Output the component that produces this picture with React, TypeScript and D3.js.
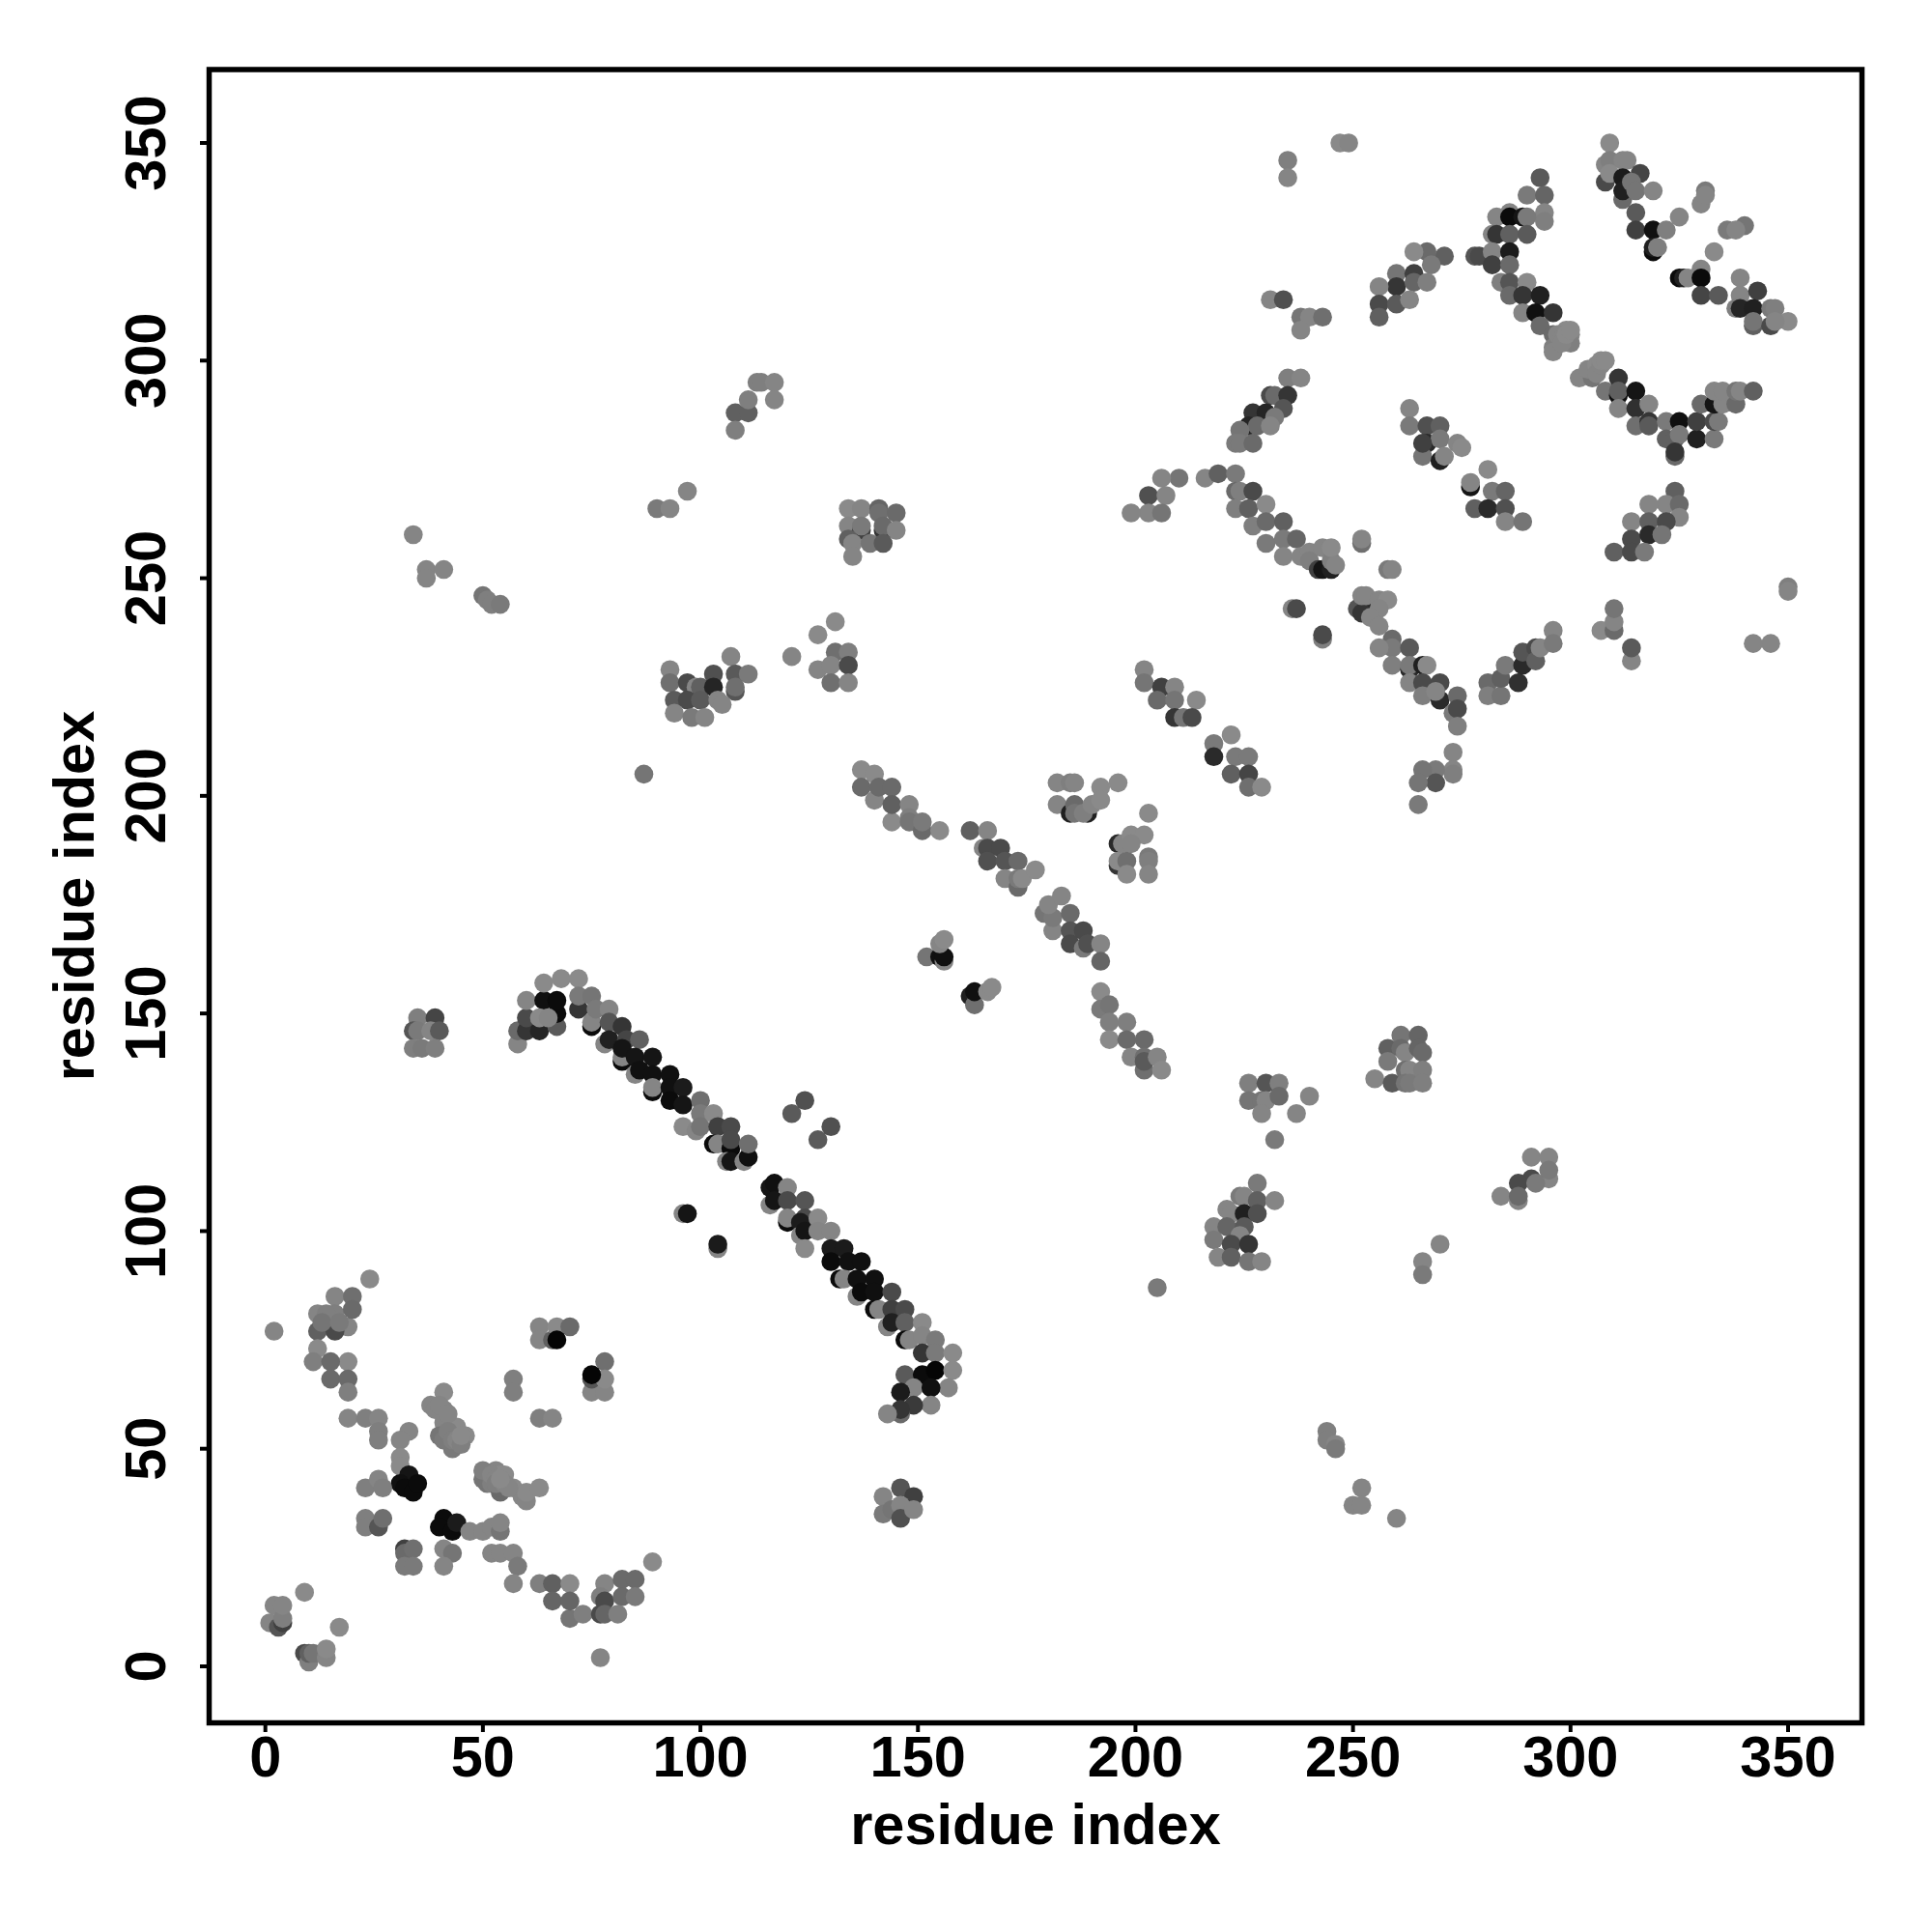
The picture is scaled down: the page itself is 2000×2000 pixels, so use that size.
import React from "react";
import * as d3 from "d3";

type P = [number, number, number]; // residue x, residue y, grey level

const lowerLeft: P[] = [
[24,89,130],[2,77,125],[16,85,125],[20,85,105],[19,78,125],[12,81,125],[16,81,120],[20,82,100],[12,77,90],[16,77,70],
[14,81,120],[13,79,110],[17,79,115],
[12,73,130],[11,70,120],[19,70,130],[15,70,100],[15,66,100],[19,66,100],[19,63,120],
[57,66,120],[57,63,120],[63,78,125],[63,75,125],[66,75,90],[67,78,130],[70,78,100],[67,75,5],
[78,70,105],[75,63,125],[78,63,125],[75,66,80],[78,66,130],[75,67,5],
[63,57,120],[66,57,125],[19,57,125],[23,57,120],[26,57,125],[26,54,120],[26,52,120],
[33,54,125],[31,52,125],[31,48,130],[31,46,130],
[41,63,130],[38,60,125],[41,59,125],[41,56,125],[40,53,110],[43,50,115],[41,52,115],[44,55,130],[46,53,130],
[39,59,125],[40,60,125],[42,58,125],[42,54,120],[43,52,120],[44,52,125],[45,51,120],[45,53,130],
[33,44,20],[31,42,15],[32,41,10],[34,40,10],[35,42,10],
[23,41,120],[26,43,125],[27,41,120],[23,34,120],[23,32,120],[26,32,80],[27,34,105],
[41,34,10],[40,32,10],[43,31,10],[44,33,25],[47,31,125],[50,31,125],[52,32,125],[54,31,110],[54,33,125],
[52,26,125],[54,26,125],[57,26,125],[58,23,115],[57,19,125],[32,27,60],[32,26,100],[34,27,105],[32,23,115],[34,23,115],
[41,27,125],[43,26,110],[41,23,125],
[51,42,110],[50,43,110],[52,42,120],[54,40,100],[54,41,100],[53,45,125],[54,44,130],[57,41,130],[59,39,125],[60,38,125],[60,40,130],[63,41,130],
[50,45,120],[52,44,125],[53,43,125],[53,42,120],[55,44,130],[55,42,125],[56,41,125],[54,43,130],
[63,19,120],[66,19,90],[70,19,130],[66,15,95],[70,11,110],[70,15,95],[73,12,120],
[78,19,125],[82,20,100],[85,20,100],[89,24,130],[77,16,120],[78,15,70],[82,16,100],[85,16,115],
[77,12,70],[78,12,95],[81,12,120],[77,2,125],
[1,10,125],[3,9,80],[4,10,60],[2,14,125],[4,11,120],[4,14,125],
[9,17,130],[17,9,130],[9,3,70],[10,1,120],[10,3,90],[11,3,110],[14,2,125],[14,4,130],
];

const longStrand: P[] = [
[58,143,125],[58,146,100],[60,146,50],[60,149,70],[60,153,125],[63,146,35],[67,147,85],[64,153,15],[64,157,130],[68,158,130],[72,158,130],
[67,150,10],[67,153,10],[63,149,130],[65,149,125],
[72,151,50],[72,154,115],[75,154,110],[75,147,10],[75,148,125],[76,151,115],[79,151,125],
[79,148,80],[82,147,50],[78,143,125],[79,144,30],[83,144,65],[86,144,90],
[82,139,10],[82,140,125],[82,142,20],[85,140,20],[89,140,20],
[85,136,125],[86,137,15],[89,136,15],[93,136,15],
[89,132,10],[89,133,125],[93,133,15],[96,133,25],[93,130,10],[96,129,20],[100,130,105],
[96,124,130],[99,123,125],[100,127,115],[100,124,110],[103,127,130],[104,124,60],[107,124,70],
[103,120,10],[104,120,125],[107,119,10],[107,121,70],[106,116,125],[107,116,20],[110,116,125],[111,117,15],[111,120,105],
[121,127,85],[124,130,75],[127,121,85],[130,124,75],
[116,106,125],[116,110,20],[117,111,15],[120,110,125],[117,107,20],[120,107,70],[124,107,80],
[120,102,10],[120,103,125],[124,103,70],[123,102,25],[123,99,125],[124,100,20],[127,103,130],[127,100,125],[130,100,125],[124,96,130],
[130,96,25],[133,96,25],[130,93,10],[134,93,15],[137,93,15],
[132,89,10],[133,89,125],[136,89,15],[140,89,15],
[136,85,125],[137,86,10],[140,86,15],[144,86,70],
[140,82,10],[141,82,125],[144,82,60],[147,82,70],
[143,78,125],[144,79,30],[147,79,90],[151,79,130],
[147,75,10],[148,75,125],[151,76,125],[154,75,115],[151,72,50],[154,72,115],[158,72,130],
[147,67,85],[151,67,10],[154,68,5],[158,68,130],
[157,64,125],[149,64,125],[153,64,15],[146,63,25],
[153,60,125],[149,60,55],[146,58,100],[146,59,50],[143,58,125],
[96,104,125],[97,104,20],[104,96,125],[104,97,25],
];

const middleStrands: P[] = [
[137,206,130],[140,205,130],[137,202,100],[140,199,125],[141,202,100],[144,202,100],
[144,194,130],[144,198,90],[148,198,125],[148,195,120],[148,194,110],[151,192,100],[151,194,115],[155,192,130],
[162,192,90],[166,192,125],[165,188,125],[166,188,70],[169,188,70],[166,185,75],[170,185,80],[173,185,100],
[170,181,125],[173,179,100],[173,181,115],[174,181,130],[177,183,130],
[179,173,110],[181,169,125],[181,172,115],[180,175,125],[183,177,125],[185,173,100],
[185,169,80],[188,169,70],[185,166,70],[188,165,115],[189,166,75],[192,166,125],[192,162,95],
[192,155,130],[192,151,115],[194,152,110],[194,148,120],[198,148,120],[194,144,130],[198,144,100],[202,144,100],
[199,140,125],[202,140,105],[202,137,105],[202,139,85],[205,140,125],[206,137,130],
[182,203,125],[185,203,120],[186,203,125],[192,202,130],[196,203,130],
[182,198,125],[185,196,30],[186,198,100],[186,196,110],[189,196,30],[188,196,120],[190,198,125],[192,199,130],
[196,189,40],[196,184,50],[196,185,130],[197,189,125],[199,191,130],[202,191,130],[203,196,130],[199,189,125],[198,185,105],
[203,186,115],[203,185,120],[198,182,130],[203,182,125],
[152,163,110],[155,163,15],[156,162,125],[156,163,15],[155,166,125],[156,167,130],
[162,154,30],[163,152,105],[163,155,15],[166,155,130],[167,156,130],
[218,212,115],[218,209,40],[222,214,130],[223,209,115],[226,209,115],[222,205,90],[226,205,65],[226,202,105],[229,202,130],
[202,229,125],[202,226,110],[206,225,60],[209,225,125],[205,222,100],[209,222,110],[214,222,130],[209,218,50],[211,218,110],[213,218,70],
];

const ringCentre: P[] = [
[210,273,110],[206,273,125],[203,269,75],[207,269,125],[203,265,125],[206,265,110],[199,265,125],
[216,273,125],[219,274,90],[223,274,115],[223,270,100],[224,270,120],[227,270,70],
[223,266,120],[226,266,90],[230,267,130],[227,262,120],[230,263,100],[234,263,90],[230,258,115],[234,259,115],[237,259,95],
[234,255,125],[238,255,125],[240,256,125],[240,254,120],[242,252,60],[243,252,20],[245,252,30],[243,257,125],[245,254,120],[245,257,130],[246,253,125],
[252,258,105],[252,259,125],[258,252,115],[259,252,125],[236,243,125],[237,243,70],[243,236,120],[243,237,70],
[252,244,40],[251,243,80],[252,242,50],[252,246,125],[253,246,125],[256,245,125],[258,245,130],[256,243,125],[254,241,125],[256,239,125],
[259,236,100],[259,234,115],[256,234,125],[263,234,85],[259,230,120],[263,229,40],[263,230,115],[263,226,125],
[266,230,30],[267,230,130],[266,226,70],[266,223,120],[270,222,40],[270,226,70],[269,224,125],[274,223,100],[273,219,115],[274,220,70],[274,216,120],
[281,226,100],[281,223,120],[284,223,110],[284,227,90],[285,230,115],[288,226,45],[289,230,40],[289,233,80],[292,234,70],[292,231,90],[293,234,125],[296,238,125],[296,235,115],
[273,210,125],[273,206,125],[273,205,120],[269,206,115],[266,206,110],[269,203,80],[265,203,110],[265,198,115],
];

const ringUpper: P[] = [
[308,341,70],[308,345,125],[309,350,130],[309,346,120],[309,343,130],[312,346,125],[313,346,125],[312,342,25],[316,343,65],[312,337,100],[312,339,30],[314,341,110],[315,339,110],[319,339,125],
[315,334,85],[315,330,60],[319,330,15],[322,330,120],[325,333,125],[319,325,10],[319,326,30],[320,326,120],
[331,339,115],[330,336,125],[331,338,125],[336,330,115],[340,331,110],[338,330,125],[333,325,130],
[325,319,10],[326,319,30],[327,319,125],[330,321,125],[330,319,10],[330,315,65],[334,315,85],
[339,319,125],[339,315,125],[343,316,60],[338,312,120],[339,312,35],[342,312,30],[346,312,115],[347,312,120],[342,308,90],[342,309,110],[346,308,70],[350,309,130],[347,309,125],
[293,342,85],[290,338,115],[294,338,95],[294,334,125],[294,332,120],[283,333,125],[286,334,125],[286,333,10],[289,333,20],[290,333,115],
[282,329,125],[283,329,50],[286,329,90],[290,329,85],[278,324,80],[279,324,70],[282,325,125],[286,325,25],[282,322,60],[286,322,100],
[284,318,120],[286,318,80],[290,318,130],[286,315,100],[289,315,50],[293,315,30],[289,311,125],[292,311,15],[296,311,50],[293,308,100],[296,306,100],[296,303,120],[296,302,125],[299,307,130],[300,306,125],[299,305,125],[300,304,120],
[297,306,125],[298,305,125],[298,304,125],[299,306,130],[300,307,130],
[302,296,125],[305,298,125],[305,296,110],[304,298,125],[306,299,130],[306,297,125],[307,299,125],[307,300,130],[308,300,130],[308,293,110],[311,292,15],[311,296,50],[311,293,90],[315,293,20],[311,289,125],[315,289,45],[318,290,125],[315,285,105],[318,286,50],[318,285,85],
[322,286,115],[325,286,15],[322,282,90],[324,282,90],[325,283,115],[324,278,100],[324,279,50],
[329,282,30],[329,286,60],[330,290,100],[333,282,115],[333,286,70],[334,286,115],[333,290,20],[335,290,125],[338,290,100],[333,293,125],[335,293,125],[338,293,110],[339,293,125],[342,293,90],
[324,270,90],[322,267,125],[318,267,125],[325,267,100],[325,264,125],[314,263,125],[318,263,90],[322,263,70],[314,259,70],[318,260,40],[321,260,110],[310,256,90],[314,256,70],[317,256,115],
[271,324,90],[267,325,100],[264,325,130],[268,322,115],[260,320,110],[264,320,60],[260,317,50],[256,317,125],[264,318,95],[267,318,120],[256,313,70],[260,313,85],[263,314,125],[256,310,90],
[263,289,125],[263,285,115],[267,285,75],[270,285,90],[267,281,40],[270,282,115],[274,281,125],[275,280,130],[266,278,110],[270,277,30],[271,278,125],[266,281,60],
[277,271,20],[277,272,125],[281,275,130],[282,270,115],[285,270,95],[278,266,90],[281,266,40],[285,266,75],[285,263,125],[289,263,110],
[231,314,125],[234,314,75],[238,310,110],[240,310,125],[243,310,105],[238,307,125],[235,296,120],[238,296,125],[231,292,70],[232,292,100],[235,292,50],[234,289,80],
[227,288,50],[230,288,35],[232,287,115],[226,285,35],[228,285,100],[231,285,125],[224,284,110],[223,281,115],[224,281,115],[227,281,100],
];

const offDiagonal: P[] = [
[34,260,125],[37,252,125],[37,250,125],[41,252,125],[50,246,110],[51,245,120],[52,244,120],[54,244,115],
[87,205,110],[90,266,115],[93,266,125],[97,270,125],
[108,288,90],[111,288,90],[111,291,120],[108,284,120],[113,295,120],[114,295,120],[117,295,125],[117,291,125],
[134,266,130],[137,266,125],[141,266,95],[141,265,105],[145,265,100],[134,262,125],[137,261,60],[137,262,115],[142,261,50],[142,262,100],[145,261,125],[134,259,90],[135,258,125],[139,258,110],[142,258,85],[135,255,125],
[131,240,130],[127,237,130],[121,232,125],[131,233,105],[134,233,120],[127,229,125],[130,230,125],[134,230,70],[130,226,105],[134,226,125],
[107,232,125],[93,229,125],[93,226,105],[97,226,70],[103,228,75],[108,228,85],[111,228,115],[99,225,125],[100,225,90],[103,225,35],[108,224,80],[108,225,105],
[94,222,85],[97,222,70],[100,222,85],[104,222,125],[105,221,125],[94,219,125],[98,218,115],[101,218,125],
[35,149,120],[39,149,65],[34,146,80],[35,146,115],[38,146,125],[40,146,85],[34,142,120],[36,142,115],[39,142,120],
[142,39,125],[146,41,80],[149,39,60],[142,35,115],[144,36,110],[146,37,125],[146,34,75],[149,36,125],
[226,134,120],[230,134,80],[233,134,120],[226,130,110],[229,130,110],[230,130,125],[233,131,100],[229,127,125],[240,131,125],[237,127,125],[232,121,115],
[261,145,110],[265,145,95],[258,142,90],[258,139,115],[261,142,100],[262,141,125],[265,142,95],[266,141,100],[262,137,105],[263,137,125],[266,137,120],[255,135,125],[259,134,85],[262,134,110],[263,134,115],[266,134,120],
[228,111,115],[224,108,115],[225,108,125],[228,107,90],[232,107,125],[221,105,125],[222,104,125],[225,104,30],[228,104,75],[218,101,125],[221,101,95],[225,101,85],[224,99,125],[218,98,115],[222,97,70],[226,97,50],[219,94,125],[222,94,90],[226,93,110],[229,93,125],
[291,117,125],[295,117,125],[295,112,125],[295,114,115],[291,112,70],[288,111,70],[292,111,115],[284,108,125],[288,107,125],[288,108,100],
[270,97,125],[266,93,125],[266,90,115],[205,87,115],
[244,54,120],[244,52,120],[246,51,125],[246,50,115],[252,41,125],[250,37,125],[252,37,125],[260,34,125],
[235,346,120],[235,342,125],[247,350,130],[249,350,125],
[350,248,120],[350,247,125],[346,235,125],[342,235,125],
[307,238,130],[310,238,100],[310,240,125],[310,243,110],[314,231,125],[314,234,85],
];

const clusters: P[][] = [lowerLeft, longStrand, middleStrands, ringCentre, ringUpper, offDiagonal];
const tickValues = [0, 50, 100, 150, 200, 250, 300, 350];
const xLabel = "residue index";
const yLabel = "residue index";

const font = "'Liberation Sans', Arial, sans-serif";
const box = { left: 216.5, right: 1927.5, top: 72, bottom: 1783.5 };

export default function App() {
  const x = d3.scaleLinear().domain([0, 350]).range([274.7, 1851]);
  const y = d3.scaleLinear().domain([0, 350]).range([1725, 148]);
  const grey = d3.scaleLinear().domain([0, 130]).range([0, 138]);
  const points = clusters.flat();
  const fillOf = (g: number) => { const v = Math.round(grey(g)); return d3.rgb(v, v, v).formatHex(); };
  return (
    <svg width={2000} height={2000} style={{ position: "absolute", left: 0, top: 0, background: "#fff" }}>
      {points.map((p, i) => (
        <circle key={i} cx={x(p[0])} cy={y(p[1])} r={9.8} fill={fillOf(p[2])} />
      ))}
      <rect x={box.left} y={box.top} width={box.right - box.left} height={box.bottom - box.top} fill="none" stroke="#000" strokeWidth={5.5} />
      {tickValues.map((t) => (
        <g key={t}>
          <line x1={x(t)} x2={x(t)} y1={box.bottom} y2={box.bottom + 9.5} stroke="#000" strokeWidth={4} />
          <text x={x(t)} y={1839} textAnchor="middle" fontFamily={font} fontWeight="bold" fontSize={59.5} fill="#000">{t}</text>
          <line y1={y(t)} y2={y(t)} x1={box.left} x2={box.left - 9.5} stroke="#000" strokeWidth={4} />
          <text transform={`translate(170.5,${y(t)}) rotate(-90)`} textAnchor="middle" fontFamily={font} fontWeight="bold" fontSize={59.5} fill="#000">{t}</text>
        </g>
      ))}
      <text x={1072} y={1909} textAnchor="middle" fontFamily={font} fontWeight="bold" fontSize={59.5} fill="#000">{xLabel}</text>
      <text transform={`translate(97,927.5) rotate(-90)`} textAnchor="middle" fontFamily={font} fontWeight="bold" fontSize={59.5} fill="#000">{yLabel}</text>
    </svg>
  );
}
